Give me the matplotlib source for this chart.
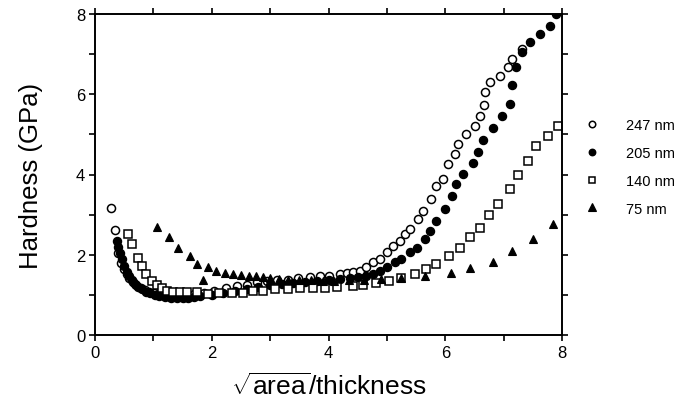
import matplotlib
matplotlib.use("Agg")
import matplotlib.pyplot as plt
from matplotlib.ticker import MultipleLocator

plt.rcParams['font.family'] = ['Liberation Sans', 'DejaVu Sans']
plt.rcParams['mathtext.fontset'] = 'custom'
plt.rcParams['mathtext.rm'] = 'Liberation Sans'

# 247 nm (open circles)
x247 = [0.27, 0.34, 0.40, 0.45, 0.49, 0.54, 0.59, 0.65, 0.71, 0.78, 0.85, 0.93, 1.01, 1.10, 1.20,
        1.30, 1.42, 1.55, 1.70, 1.86, 2.03, 2.25, 2.43, 2.60, 2.77, 2.94, 3.11, 3.31, 3.48, 3.68,
        3.85, 4.00, 4.20, 4.31, 4.42, 4.54, 4.65, 4.77, 4.88, 5.00, 5.11, 5.22, 5.31, 5.39, 5.54,
        5.62, 5.76, 5.84, 5.96, 6.05, 6.16, 6.22, 6.35, 6.51, 6.59, 6.66, 6.68, 6.76, 6.93, 7.08,
        7.15, 7.31]
y247 = [3.16, 2.62, 2.04, 1.80, 1.65, 1.52, 1.42, 1.33, 1.25, 1.18, 1.12, 1.07, 1.04, 1.01, 0.99,
        0.98, 0.98, 0.99, 1.01, 1.04, 1.10, 1.17, 1.21, 1.25, 1.31, 1.35, 1.36, 1.38, 1.41, 1.44,
        1.46, 1.48, 1.52, 1.54, 1.56, 1.60, 1.69, 1.81, 1.90, 2.06, 2.23, 2.35, 2.52, 2.64, 2.89,
        3.10, 3.39, 3.72, 3.89, 4.26, 4.51, 4.75, 5.01, 5.22, 5.47, 5.74, 6.05, 6.30, 6.45, 6.67,
        6.88, 7.13]

# 205 nm (filled circles)
x205 = [0.37, 0.40, 0.43, 0.46, 0.50, 0.54, 0.58, 0.63, 0.68, 0.74, 0.80, 0.87, 0.94, 1.02, 1.10,
        1.20, 1.30, 1.40, 1.50, 1.60, 1.70, 1.80, 2.00, 2.20, 2.40, 2.60, 2.80, 3.00, 3.20, 3.40,
        3.60, 3.80, 4.00, 4.20, 4.37, 4.51, 4.65, 4.77, 4.88, 5.00, 5.14, 5.25, 5.39, 5.51, 5.65,
        5.74, 5.84, 5.99, 6.11, 6.19, 6.31, 6.47, 6.56, 6.64, 6.81, 6.98, 7.11, 7.15, 7.21, 7.31,
        7.45, 7.62, 7.79, 7.90]
y205 = [2.35, 2.19, 2.05, 1.90, 1.72, 1.58, 1.46, 1.36, 1.28, 1.20, 1.14, 1.08, 1.04, 1.00, 0.97,
        0.95, 0.93, 0.92, 0.92, 0.93, 0.94, 0.96, 1.00, 1.05, 1.10, 1.15, 1.20, 1.24, 1.27, 1.30,
        1.32, 1.35, 1.37, 1.39, 1.41, 1.44, 1.48, 1.52, 1.60, 1.69, 1.81, 1.90, 2.06, 2.18, 2.39,
        2.60, 2.85, 3.14, 3.47, 3.77, 4.01, 4.29, 4.57, 4.87, 5.15, 5.47, 5.76, 6.23, 6.67, 7.05,
        7.30, 7.50, 7.71, 8.00]

# 140 nm (open squares)
x140 = [0.56, 0.63, 0.73, 0.80, 0.88, 0.97, 1.06, 1.14, 1.23, 1.34, 1.46, 1.57, 1.74, 1.94, 2.13,
        2.34, 2.54, 2.71, 2.88, 3.08, 3.31, 3.51, 3.74, 3.94, 4.14, 4.42, 4.59, 4.82, 5.04, 5.25,
        5.48, 5.67, 5.85, 6.07, 6.25, 6.43, 6.60, 6.75, 6.91, 7.11, 7.25, 7.42, 7.56, 7.76, 7.93]
y140 = [2.52, 2.27, 1.92, 1.73, 1.52, 1.35, 1.25, 1.16, 1.10, 1.08, 1.06, 1.06, 1.06, 1.03, 1.04,
        1.04, 1.05, 1.10, 1.10, 1.15, 1.15, 1.16, 1.16, 1.16, 1.19, 1.21, 1.25, 1.30, 1.35, 1.42,
        1.52, 1.64, 1.77, 1.98, 2.18, 2.44, 2.66, 2.98, 3.27, 3.64, 4.00, 4.33, 4.70, 4.97, 5.22]

# 75 nm (filled triangles)
x75 = [1.07, 1.26, 1.43, 1.62, 1.74, 1.85, 1.93, 2.08, 2.23, 2.37, 2.50, 2.63, 2.76, 2.88, 3.00,
       3.15, 3.30, 3.50, 3.70, 3.90, 4.10, 4.35, 4.60, 4.90, 5.25, 5.65, 6.09, 6.43, 6.82, 7.15,
       7.51, 7.84]
y75 = [2.70, 2.45, 2.16, 1.98, 1.77, 1.38, 1.69, 1.60, 1.55, 1.52, 1.50, 1.48, 1.46, 1.44, 1.42,
       1.40, 1.38, 1.37, 1.36, 1.35, 1.35, 1.36, 1.37, 1.40, 1.43, 1.48, 1.55, 1.66, 1.83, 2.10,
       2.39, 2.77]

labels = ['247 nm', '205 nm', '140 nm', '75 nm']
xticks = [0, 2, 4, 6, 8]
yticks = [0, 2, 4, 6, 8]

fig = plt.figure(figsize=(7.0, 4.02), dpi=100)
ax = fig.add_axes([95/700, 1-336/402, (562-95)/700, (336-15)/402])

ms = 5.8
ax.plot(x247, y247, 'o', ls='none', mfc='white', mec='black', mew=1.1, ms=ms, label=labels[0])
ax.plot(x205, y205, 'o', ls='none', mfc='black', mec='black', mew=1.0, ms=ms, label=labels[1])
ax.plot(x140, y140, 's', ls='none', mfc='white', mec='black', mew=1.1, ms=ms, label=labels[2])
ax.plot(x75, y75, '^', ls='none', mfc='black', mec='black', mew=0.8, ms=ms+0.6, label=labels[3])

ax.set_xlim(0, 8)
ax.set_ylim(0, 8)
ax.set_xticks(xticks)
ax.set_yticks(yticks)
ax.xaxis.set_minor_locator(MultipleLocator(1))
ax.yaxis.set_minor_locator(MultipleLocator(1))
ax.tick_params(which='both', direction='out', top=True, right=True, length=4, width=1.2)
ax.tick_params(which='major', labelsize=12, pad=3)
for s in ax.spines.values():
    s.set_linewidth(1.4)

ax.set_ylabel('Hardness (GPa)', fontsize=18.5, labelpad=24)
ax.set_xlabel(r'$\sqrt{\mathrm{area}}$/thickness', fontsize=19, labelpad=9)

leg = ax.legend(loc='upper left', bbox_to_anchor=(585/700, 1-119/402), bbox_transform=fig.transFigure,
                frameon=False, fontsize=10.5, markerscale=0.8, handlelength=1.0,
                handletextpad=1.8, labelspacing=0.95, borderpad=0, borderaxespad=0)

fig.savefig('out.png', dpi=100)
